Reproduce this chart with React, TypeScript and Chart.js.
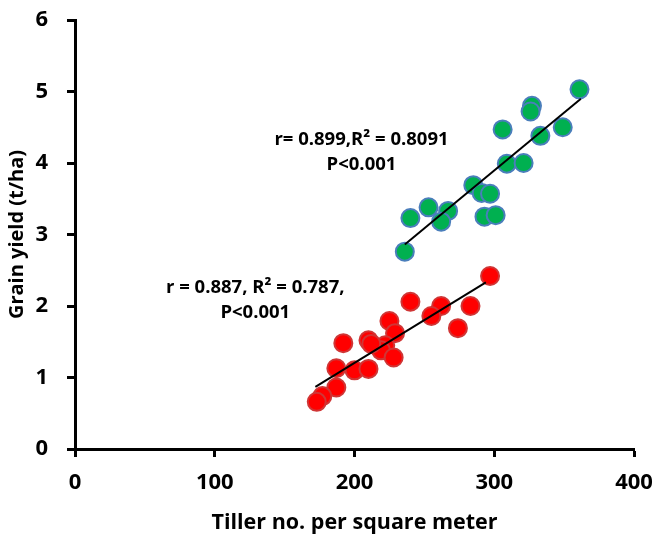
import { useEffect, useRef } from "react";
import { Chart, registerables } from "chart.js";

Chart.register(...registerables);

// Tiller density (per m²) and grain yield (t/ha) for the two groups
const tillerGreen = [361, 327, 326, 306, 349, 333, 309, 321, 285, 291, 297, 253, 267, 240, 262, 293, 301, 236];
const yieldGreen = [5.03, 4.8, 4.72, 4.47, 4.5, 4.38, 3.99, 4.0, 3.69, 3.58, 3.57, 3.38, 3.33, 3.23, 3.18, 3.25, 3.27, 2.76];

const tillerRed = [297, 283, 262, 240, 255, 274, 225, 229, 222, 219, 228, 210, 212, 200, 210, 192, 187, 187, 177, 173];
const yieldRed = [2.42, 2.0, 2.0, 2.06, 1.86, 1.69, 1.79, 1.62, 1.45, 1.38, 1.28, 1.52, 1.47, 1.1, 1.12, 1.48, 1.13, 0.86, 0.74, 0.66];

// Fitted regression lines (end points)
const trendGreenX = [236, 362];
const trendGreenY = [2.86, 4.9];
const trendRedX = [172, 294];
const trendRedY = [0.87, 2.33];

// Axis ranges and tick steps
const xTicks = [0, 100, 200, 300, 400];
const yTicks = [0, 1, 2, 3, 4, 5, 6];

// Regression statistics shown beside each cluster
const greenStats = ["r= 0.899,R\u00B2 = 0.8091", "P<0.001"];
const redStats = ["r = 0.887, R\u00B2 = 0.787,", "P<0.001"];

const FONT = "'Open Sans', Lato, 'DejaVu Sans', sans-serif";

const toPoints = (xs: number[], ys: number[]) => xs.map((x, i) => ({ x, y: ys[i] }));

const statsPlugin = {
  id: "regressionStats",
  afterDatasetsDraw(chart: any) {
    const { ctx, scales } = chart;
    const xs = scales.x;
    const ys = scales.y;
    const blocks = [
      { lines: greenStats, at: { x: 205, y: 4.32 } },
      { lines: redStats, at: { x: 129, y: 2.25 } },
    ];
    ctx.save();
    ctx.font = `bold 18.5px ${FONT}`;
    ctx.fillStyle = "#000";
    ctx.textAlign = "center";
    ctx.textBaseline = "middle";
    for (const b of blocks) {
      const px = xs.getPixelForValue(b.at.x);
      const py = ys.getPixelForValue(b.at.y);
      b.lines.forEach((t, i) => ctx.fillText(t, px, py + i * 25));
    }
    ctx.restore();
  },
};

export default function App() {
  const canvasRef = useRef<HTMLCanvasElement | null>(null);

  useEffect(() => {
    const canvas = canvasRef.current;
    if (!canvas) return;
    const axisFont = { family: FONT, size: 22, weight: "bold" };
    const chart = new Chart(canvas, {
      type: "scatter",
      data: {
        datasets: [
          {
            type: "line",
            data: toPoints(trendGreenX, trendGreenY),
            borderColor: "#000",
            borderWidth: 2,
            pointRadius: 0,
            fill: false,
            order: 0,
          },
          {
            type: "line",
            data: toPoints(trendRedX, trendRedY),
            borderColor: "#000",
            borderWidth: 2,
            pointRadius: 0,
            fill: false,
            order: 0,
          },
          {
            data: toPoints(tillerGreen, yieldGreen),
            backgroundColor: "#00B050",
            borderColor: "#4A7EBB",
            borderWidth: 2,
            pointRadius: 9,
            order: 1,
          },
          {
            data: toPoints(tillerRed, yieldRed),
            backgroundColor: "#FF0000",
            borderColor: "#D03535",
            borderWidth: 2,
            pointRadius: 9,
            order: 1,
          },
        ] as any,
      },
      options: {
        animation: false,
        responsive: false,
        layout: { padding: { top: 20, right: 22, left: 0, bottom: 0 } },
        plugins: {
          legend: { display: false },
          tooltip: { enabled: false },
        },
        scales: {
          x: {
            type: "linear",
            min: xTicks[0],
            max: xTicks[xTicks.length - 1],
            afterBuildTicks: (s: any) => {
              s.ticks = xTicks.map((v) => ({ value: v }));
            },
            afterFit: (s: any) => {
              s.height = 92;
              s.paddingLeft = 0;
              s.paddingRight = 0;
            },
            border: { color: "#000", width: 3 },
            grid: { drawOnChartArea: false, drawTicks: true, tickLength: 8, tickWidth: 3, tickColor: "#000" },
            ticks: { color: "#000", padding: 13, font: axisFont },
            title: {
              display: true,
              text: "Tiller no. per square meter",
              color: "#000",
              font: { family: FONT, size: 21.5, weight: "bold" },
              padding: { top: 0, bottom: 5 },
            },
          },
          y: {
            type: "linear",
            min: yTicks[0],
            max: yTicks[yTicks.length - 1],
            afterBuildTicks: (s: any) => {
              s.ticks = yTicks.map((v) => ({ value: v }));
            },
            afterFit: (s: any) => {
              s.width = 75;
              s.paddingTop = 0;
              s.paddingBottom = 0;
            },
            border: { color: "#000", width: 3 },
            grid: { drawOnChartArea: false, drawTicks: true, tickLength: 8, tickWidth: 3, tickColor: "#000" },
            ticks: { color: "#000", padding: 19, font: axisFont },
            title: {
              display: true,
              text: "Grain yield (t/ha)",
              color: "#000",
              font: { family: FONT, size: 20, weight: "bold" },
              padding: { top: 5, bottom: 0 },
            },
          },
        },
      } as any,
      plugins: [statsPlugin],
    });
    return () => chart.destroy();
  }, []);

  return (
    <div style={{ position: "fixed", left: 0, top: 0, width: 656, height: 541, background: "#fff" }}>
      <canvas ref={canvasRef} width={656} height={541} />
    </div>
  );
}
